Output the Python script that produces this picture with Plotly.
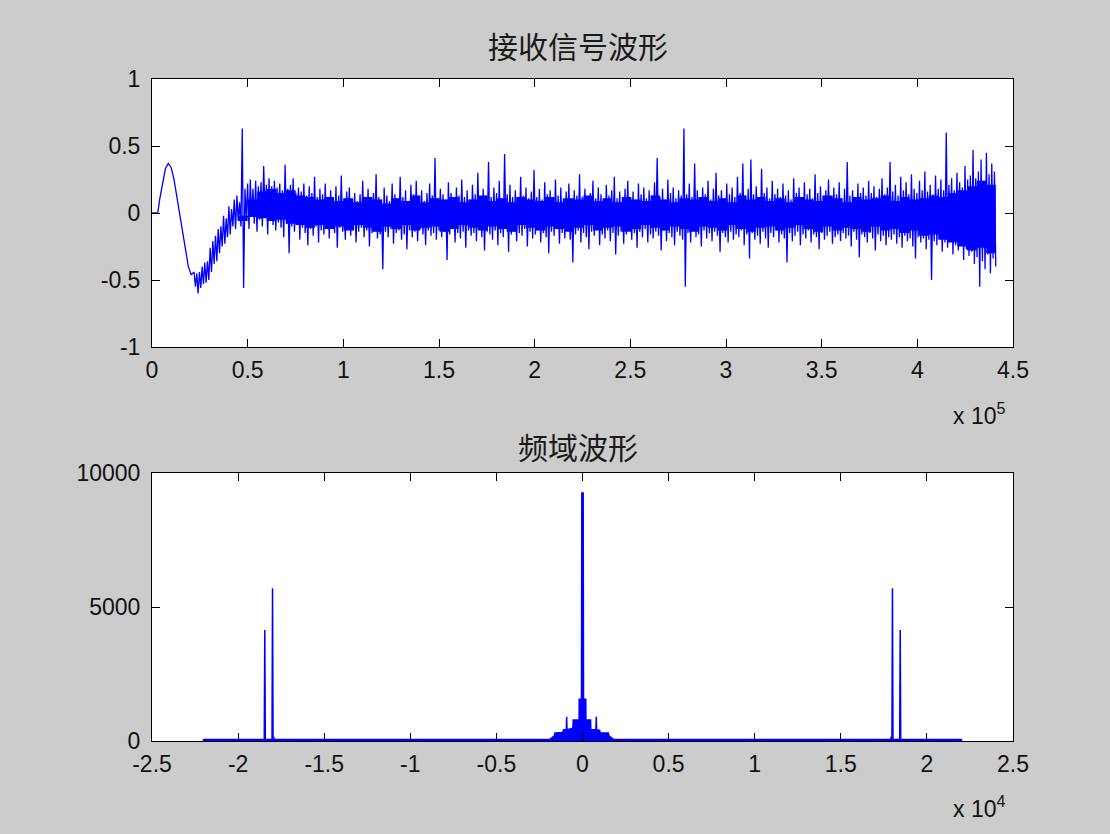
import numpy as np
import plotly.graph_objects as go

# ---------------- data ----------------
# clean low-frequency start of the received signal (sample index, amplitude)
start_x = [0, 3000, 4000, 5500, 7000, 8500, 10000, 11500, 13000, 14500, 16000, 17500, 19000, 20500]
start_y = [0.0, 0.0, 0.10, 0.22, 0.33, 0.37, 0.34, 0.25, 0.12, -0.02, -0.16, -0.30, -0.40, -0.46]

# noisy part, 22000 .. 441000 samples: upper / lower excursions
noise_hi = [
    -0.44, -0.45, -0.44, -0.40, -0.37, -0.36, -0.26, -0.21, -0.17, -0.12,
    -0.10, -0.02, -0.04, 0.05, 0.03, 0.10, 0.13, 0.08, 0.63, 0.18,
    0.22, 0.25, 0.18, 0.24, 0.20, 0.23, 0.35, 0.21, 0.26, 0.20,
    0.24, 0.19, 0.22, 0.17, 0.36, 0.18, 0.21, 0.26, 0.15, 0.19,
    0.16, 0.22, 0.13, 0.20, 0.15, 0.27, 0.12, 0.18, 0.14, 0.22,
    0.11, 0.17, 0.10, 0.20, 0.13, 0.28, 0.11, 0.16, 0.19, 0.10,
    0.15, 0.09, 0.14, 0.24, 0.11, 0.18, 0.09, 0.15, 0.29, 0.12,
    0.10, 0.19, 0.13, 0.09, 0.22, 0.14, 0.11, 0.27, 0.12, 0.17,
    0.09, 0.21, 0.14, 0.24, 0.11, 0.17, 0.09, 0.15, 0.22, 0.13,
    0.41, 0.11, 0.18, 0.14, 0.10, 0.23, 0.15, 0.09, 0.19, 0.13,
    0.25, 0.12, 0.17, 0.10, 0.21, 0.14, 0.30, 0.11, 0.18, 0.13,
    0.38, 0.12, 0.19, 0.15, 0.24, 0.11, 0.44, 0.14, 0.21, 0.12,
    0.17, 0.10, 0.27, 0.13, 0.19, 0.11, 0.16, 0.32, 0.12, 0.18,
    0.10, 0.23, 0.14, 0.17, 0.09, 0.25, 0.13, 0.19, 0.11, 0.16,
    0.22, 0.10, 0.17, 0.13, 0.29, 0.12, 0.18, 0.09, 0.15, 0.24,
    0.11, 0.19, 0.14, 0.10, 0.21, 0.13, 0.17, 0.27, 0.11, 0.16,
    0.09, 0.18, 0.24, 0.12, 0.16, 0.10, 0.22, 0.14, 0.19, 0.11,
    0.17, 0.13, 0.23, 0.41, 0.12, 0.18, 0.10, 0.25, 0.15, 0.19,
    0.11, 0.17, 0.13, 0.63, 0.14, 0.22, 0.12, 0.37, 0.17, 0.11,
    0.19, 0.14, 0.24, 0.10, 0.18, 0.30, 0.13, 0.17, 0.11, 0.22,
    0.14, 0.19, 0.12, 0.27, 0.15, 0.37, 0.13, 0.18, 0.40, 0.14,
    0.20, 0.12, 0.33, 0.15, 0.19, 0.11, 0.24, 0.14, 0.18, 0.12,
    0.22, 0.13, 0.17, 0.10, 0.26, 0.15, 0.19, 0.12, 0.23, 0.14,
    0.18, 0.11, 0.29, 0.15, 0.20, 0.13, 0.17, 0.25, 0.12, 0.19,
    0.14, 0.23, 0.11, 0.18, 0.38, 0.13, 0.17, 0.12, 0.22, 0.15,
    0.19, 0.13, 0.24, 0.15, 0.20, 0.12, 0.18, 0.26, 0.14, 0.19,
    0.38, 0.16, 0.21, 0.13, 0.27, 0.17, 0.23, 0.14, 0.29, 0.18,
    0.15, 0.24, 0.17, 0.31, 0.16, 0.21, 0.14, 0.28, 0.18, 0.25,
    0.17, 0.60, 0.21, 0.26, 0.17, 0.30, 0.23, 0.19, 0.35, 0.25,
    0.28, 0.47, 0.26, 0.31, 0.40, 0.24, 0.45, 0.29, 0.37, 0.31,
]
noise_lo = [
    -0.55, -0.60, -0.56, -0.53, -0.52, -0.50, -0.44, -0.38, -0.36, -0.30,
    -0.25, -0.23, -0.18, -0.16, -0.10, -0.12, -0.06, -0.10, -0.56, -0.04,
    -0.12, -0.03, -0.08, -0.14, -0.05, -0.10, -0.02, -0.16, -0.06, -0.09,
    -0.13, -0.07, -0.11, -0.18, -0.08, -0.30, -0.10, -0.14, -0.09, -0.20,
    -0.11, -0.15, -0.24, -0.12, -0.17, -0.10, -0.22, -0.13, -0.16, -0.11,
    -0.19, -0.12, -0.15, -0.26, -0.11, -0.14, -0.20, -0.12, -0.17, -0.13,
    -0.22, -0.14, -0.11, -0.18, -0.13, -0.25, -0.15, -0.12, -0.19, -0.16,
    -0.42, -0.14, -0.18, -0.12, -0.23, -0.15, -0.13, -0.20, -0.16, -0.27,
    -0.13, -0.18, -0.14, -0.21, -0.12, -0.16, -0.24, -0.13, -0.17, -0.15,
    -0.20, -0.13, -0.18, -0.14, -0.35, -0.16, -0.12, -0.22, -0.15, -0.19,
    -0.14, -0.26, -0.13, -0.17, -0.15, -0.21, -0.12, -0.18, -0.28, -0.14,
    -0.16, -0.20, -0.13, -0.24, -0.15, -0.18, -0.12, -0.29, -0.16, -0.14,
    -0.21, -0.15, -0.17, -0.12, -0.25, -0.14, -0.19, -0.16, -0.13, -0.22,
    -0.15, -0.18, -0.30, -0.14, -0.17, -0.12, -0.23, -0.15, -0.19, -0.13,
    -0.20, -0.37, -0.16, -0.13, -0.22, -0.15, -0.18, -0.27, -0.14, -0.17,
    -0.12, -0.24, -0.16, -0.19, -0.13, -0.21, -0.15, -0.31, -0.17, -0.14,
    -0.23, -0.16, -0.13, -0.20, -0.15, -0.26, -0.14, -0.18, -0.12, -0.22,
    -0.16, -0.19, -0.14, -0.17, -0.28, -0.13, -0.21, -0.15, -0.18, -0.24,
    -0.14, -0.17, -0.20, -0.55, -0.15, -0.22, -0.13, -0.18, -0.16, -0.25,
    -0.13, -0.19, -0.15, -0.21, -0.14, -0.17, -0.29, -0.15, -0.18, -0.22,
    -0.14, -0.20, -0.16, -0.18, -0.13, -0.24, -0.16, -0.34, -0.15, -0.20,
    -0.17, -0.23, -0.14, -0.19, -0.26, -0.15, -0.18, -0.13, -0.22, -0.16,
    -0.19, -0.37, -0.15, -0.21, -0.17, -0.14, -0.24, -0.16, -0.19, -0.13,
    -0.22, -0.16, -0.18, -0.27, -0.15, -0.20, -0.17, -0.14, -0.23, -0.18,
    -0.16, -0.21, -0.15, -0.19, -0.17, -0.25, -0.14, -0.20, -0.33, -0.16,
    -0.18, -0.22, -0.15, -0.19, -0.28, -0.16, -0.21, -0.17, -0.24, -0.18,
    -0.20, -0.16, -0.23, -0.18, -0.26, -0.17, -0.21, -0.19, -0.25, -0.34,
    -0.18, -0.22, -0.19, -0.27, -0.20, -0.50, -0.21, -0.24, -0.19, -0.29,
    -0.22, -0.26, -0.20, -0.31, -0.24, -0.28, -0.23, -0.35, -0.27, -0.32,
    -0.29, -0.38, -0.33, -0.55, -0.36, -0.42, -0.31, -0.45, -0.34, -0.40,
]
noise_start, noise_end = 22000, 441000

# dense (solid) core of the noise band, one value every ~5000 samples, 45000 .. 441000
core_hi = [
    -0.02, 0.10, 0.16, 0.18, 0.15, 0.17, 0.13,
    0.12, 0.10, 0.12, 0.09, 0.11, 0.08, 0.12, 0.10, 0.07, 0.11,
    0.09, 0.13, 0.08, 0.11, 0.10, 0.12, 0.08, 0.10, 0.13, 0.09,
    0.11, 0.08, 0.12, 0.10, 0.09, 0.12, 0.08, 0.11, 0.10, 0.13,
    0.09, 0.11, 0.08, 0.12, 0.10, 0.09, 0.13, 0.10, 0.08, 0.11,
    0.10, 0.12, 0.09, 0.11, 0.08, 0.13, 0.10, 0.12, 0.09, 0.11,
    0.08, 0.12, 0.10, 0.09, 0.13, 0.11, 0.08, 0.12, 0.10, 0.11,
    0.13, 0.09, 0.12, 0.10, 0.11, 0.13, 0.12, 0.15, 0.17, 0.20,
    0.24, 0.21, 0.25,
]
core_lo = [
    -0.12, -0.06, -0.03, -0.04, -0.06, -0.05, -0.08,
    -0.09, -0.11, -0.09, -0.12, -0.10, -0.13, -0.09, -0.11, -0.14, -0.10,
    -0.12, -0.09, -0.13, -0.11, -0.10, -0.14, -0.12, -0.09, -0.11, -0.13,
    -0.10, -0.12, -0.14, -0.09, -0.11, -0.13, -0.10, -0.12, -0.14, -0.11,
    -0.09, -0.13, -0.11, -0.10, -0.14, -0.12, -0.09, -0.11, -0.13, -0.10,
    -0.12, -0.14, -0.10, -0.11, -0.13, -0.09, -0.12, -0.14, -0.11, -0.10,
    -0.13, -0.11, -0.09, -0.12, -0.14, -0.10, -0.13, -0.11, -0.12, -0.14,
    -0.10, -0.13, -0.12, -0.15, -0.13, -0.17, -0.16, -0.20, -0.22, -0.25,
    -0.28, -0.26, -0.30,
]
core_start, core_end = 45000, 441000

# spectrum (frequency in Hz, magnitude)
spec_f = [-22050, -18480, -18450, -18420, -18030, -18000, -17970, -17940, -17900,
          -1900, -1650, -1600, -1150, -1100, -940, -920, -900, -560, -540, -200,
          -190, -60, -40, 40, 60, 190,
          200, 470, 480, 780, 800, 820, 1000, 1020, 1500, 1550, 1800,
          17900, 17940, 17970, 18000, 18030, 18420, 18450, 18480, 22050]
spec_a = [60, 60, 4140, 60, 60, 5700, 60, 160, 60,
          60, 180, 300, 320, 420, 420, 900, 420, 480, 780, 780,
          1560, 1560, 9250, 9250, 1560, 1560,
          780, 780, 420, 420, 900, 420, 400, 300, 300, 180, 60,
          60, 160, 60, 5700, 60, 60, 4140, 60, 60]

top_tickvals = [0, 50000, 100000, 150000, 200000, 250000, 300000, 350000, 400000, 450000]
top_ticktext = ["0", "0.5", "1", "1.5", "2", "2.5", "3", "3.5", "4", "4.5"]
top_yvals = [-1, -0.5, 0, 0.5, 1]
top_ytext = ["-1", "-0.5", "0", "0.5", "1"]
bot_tickvals = [-25000, -20000, -15000, -10000, -5000, 0, 5000, 10000, 15000, 20000, 25000]
bot_ticktext = ["-2.5", "-2", "-1.5", "-1", "-0.5", "0", "0.5", "1", "1.5", "2", "2.5"]
bot_yvals = [0, 5000, 10000]
bot_ytext = ["0", "5000", "10000"]

title_top = "接收信号波形"
title_bot = "频域波形"

# ---------------- build traces ----------------
n = len(noise_hi)
noise_x = np.linspace(noise_start, noise_end, 2 * n)
noise_y = []
for h, l in zip(noise_hi, noise_lo):
    noise_y.extend([h, l])
sig_x = list(start_x) + list(noise_x)
sig_y = list(start_y) + noise_y

core_x = np.linspace(core_start, core_end, len(core_hi))
poly_x = list(core_x) + list(core_x[::-1])
poly_y = list(core_hi) + list(core_lo[::-1])

W, H = 1110, 834
BLUE = "#0000ff"
BG = "#cccccc"

fig = go.Figure()
fig.add_trace(go.Scatter(x=poly_x, y=poly_y, mode="lines", fill="toself",
                         fillcolor=BLUE, line=dict(color=BLUE, width=0, shape="hv"),
                         xaxis="x", yaxis="y", hoverinfo="skip", showlegend=False))
fig.add_trace(go.Scatter(x=sig_x, y=sig_y, mode="lines",
                         line=dict(color=BLUE, width=1.3), xaxis="x", yaxis="y",
                         hoverinfo="skip", showlegend=False))
fig.add_trace(go.Scatter(x=spec_f, y=spec_a, mode="lines", fill="tozeroy",
                         fillcolor=BLUE, line=dict(color=BLUE, width=1.5),
                         xaxis="x2", yaxis="y2", hoverinfo="skip", showlegend=False))

left, right = 152 / W, 1013 / W
tick_font = dict(family="Liberation Sans, Arial, sans-serif", size=23, color="#111111")
common = dict(showline=True, linecolor="#000000", linewidth=1, mirror="ticks",
              ticks="inside", ticklen=8, tickcolor="#000000", tickwidth=1,
              showgrid=False, zeroline=False, tickfont=tick_font, fixedrange=True,
              automargin=False)

fig.update_layout(
    template="none",
    width=W, height=H,
    paper_bgcolor=BG, plot_bgcolor="#ffffff",
    margin=dict(l=0, r=0, t=0, b=0, pad=0),
    xaxis=dict(domain=[left, right], range=[0, 450000], tickmode="array",
               tickvals=top_tickvals, ticktext=top_ticktext, anchor="y",
               ticklabelstandoff=2, **common),
    yaxis=dict(domain=[1 - 347 / H, 1 - 79 / H], range=[-1, 1], tickmode="array",
               tickvals=top_yvals, ticktext=top_ytext, anchor="x",
               ticklabelstandoff=6, **common),
    xaxis2=dict(domain=[left, right], range=[-25000, 25000], tickmode="array",
                tickvals=bot_tickvals, ticktext=bot_ticktext, anchor="y2",
                ticklabelstandoff=2, **common),
    yaxis2=dict(domain=[1 - 741 / H, 1 - 473 / H], range=[0, 10000], tickmode="array",
                tickvals=bot_yvals, ticktext=bot_ytext, anchor="x2",
                ticklabelstandoff=6, **common),
    showlegend=False,
)

cjk = dict(family="Noto Sans CJK SC", size=30, color="#1a1a1a")
fig.add_annotation(text=title_top, x=578 / W, y=1 - 45 / H, xref="paper", yref="paper",
                   showarrow=False, font=cjk, xanchor="center", yanchor="middle")
fig.add_annotation(text=title_bot, x=578 / W, y=1 - 446 / H, xref="paper", yref="paper",
                   showarrow=False, font=cjk, xanchor="center", yanchor="middle")
fig.add_annotation(text="x 10<sup>5</sup>", x=951 / W, y=1 - 414 / H, xref="paper", yref="paper",
                   showarrow=False, font=tick_font, xanchor="left", yanchor="middle")
fig.add_annotation(text="x 10<sup>4</sup>", x=951 / W, y=1 - 807 / H, xref="paper", yref="paper",
                   showarrow=False, font=tick_font, xanchor="left", yanchor="middle")

fig.write_html("out.html", config={"displayModeBar": False},
               post_script="document.body.style.margin='0';document.body.style.background='#cccccc';")
